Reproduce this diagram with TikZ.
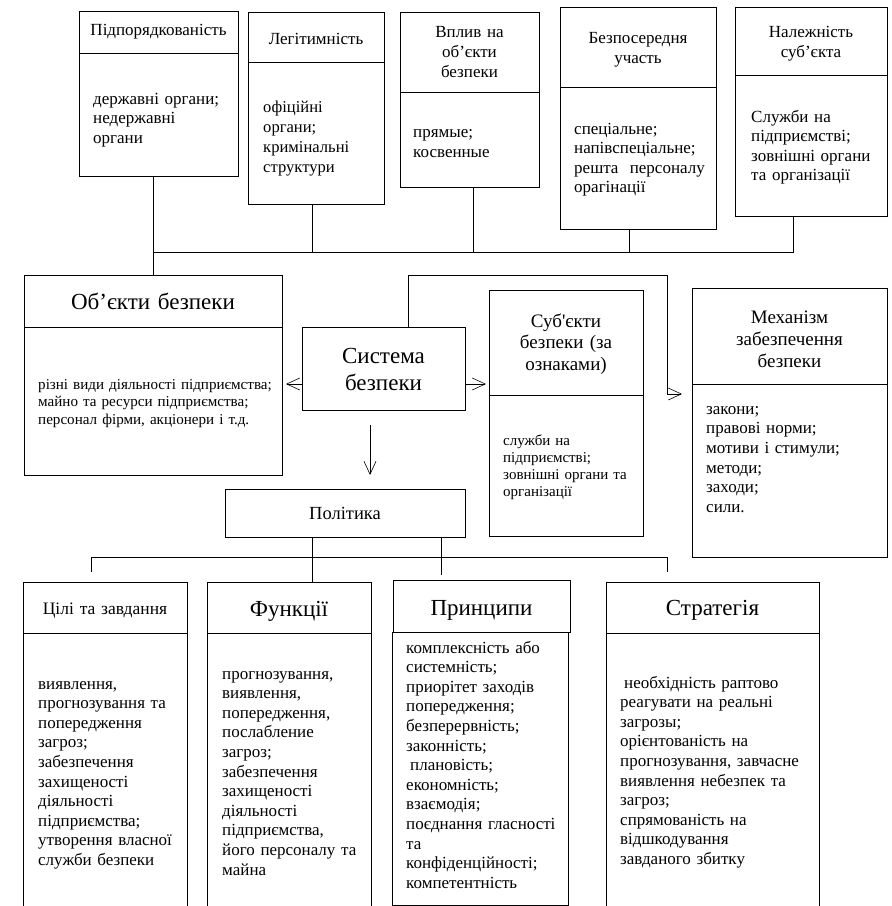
\documentclass[tikz,border=0pt]{standalone}
\usepackage{fontspec}
\setmainfont{Liberation Serif}[Ligatures=TeXOff]
\usetikzlibrary{arrows.meta}

\begin{document}
\begin{tikzpicture}[x=1pt, y=-1pt,
  cell/.style={draw, line width=0.9pt, anchor=north west, inner sep=0pt, outer sep=0pt},
  ttl/.style={anchor=base, align=center, inner sep=0pt, text width=#1,
    font=\fontsize{17}{20}\selectfont},
  big/.style={font=\fontsize{23}{27}\selectfont},
  txt/.style={anchor=base west, align=left, inner sep=0pt, text width=260pt,
    font=\fontsize{17}{19.6}\selectfont},
  wire/.style={line width=0.9pt},
  arr/.style={line width=0.8pt, -{Straight Barb[length=13pt, width=12pt, line width=0.6pt]}}]

\useasboundingbox (0,0) rectangle (892,906);
\fill[white] (0,0) rectangle (892,906);
\clip (0,0) rectangle (892,906);

% ---- upper row: classification features of the subjects ----
\node[cell, minimum width=159, minimum height=42]  (subH) at (79,11) {};
\node[cell, minimum width=159, minimum height=123] (subB) at (79,53) {};
\node[ttl=159pt] (subT) at (158.5,35.5) {Підпорядкованість};
\node[txt] (subX) at (93,104) {державні органи;\\недержавні\\органи};

\node[cell, minimum width=136, minimum height=50]  (legH) at (248,12) {};
\node[cell, minimum width=136, minimum height=142] (legB) at (248,62) {};
\node[ttl=136pt] (legT) at (316,44) {Легітимність};
\node[txt, font=\fontsize{16.6}{20}\selectfont] (legX) at (263,112) {офіційні\\органи;\\кримінальні\\структури};

\node[cell, minimum width=139, minimum height=80] (infH) at (400,12) {};
\node[cell, minimum width=139, minimum height=95] (infB) at (400,92) {};
\node[ttl=139pt] (infT) at (469.5,37) {Вплив на\\об’єкти\\безпеки};
\node[txt, font=\fontsize{17}{20}\selectfont] (infX) at (413,137) {прямые;\\косвенные};

\node[cell, minimum width=156, minimum height=80]  (parH) at (560,7) {};
\node[cell, minimum width=156, minimum height=142] (parB) at (560,87) {};
\node[ttl=156pt] (parT) at (638,43) {Безпосередня\\участь};
\node[txt] (parX) at (574,134) {спеціальне;\\напівспеціальне;\\решта\ \ персоналу\\орагінації};

\node[cell, minimum width=152, minimum height=68]  (ownH) at (735,7) {};
\node[cell, minimum width=152, minimum height=141] (ownB) at (735,75) {};
\node[ttl=152pt] (ownT) at (811,37) {Належність\\суб’єкта};
\node[txt] (ownX) at (751,122) {Служби на\\підприємстві;\\зовнішні органи\\та організації};

% ---- middle row ----
\node[cell, minimum width=258, minimum height=52]  (objH) at (24,275) {};
\node[cell, minimum width=258, minimum height=148] (objB) at (24,327) {};
\node[ttl=258pt, big] (objT) at (153,309) {Об’єкти безпеки};
\node[txt, font=\fontsize{15.1}{17.5}\selectfont] (objX) at (38,389)
  {різні види діяльності підприємства;\\майно та ресурси підприємства;\\персонал фірми, акціонери і т.д.};

\node[cell, minimum width=163, minimum height=83] (sys) at (302,327) {};
\node[ttl=163pt, big] (sysT) at (383.5,363) {Система\\безпеки};

\node[cell, minimum width=154, minimum height=105] (agtH) at (489,290) {};
\node[cell, minimum width=154, minimum height=141] (agtB) at (489,395) {};
\node[ttl=154pt, font=\fontsize{19}{21.5}\selectfont] (agtT) at (566,327) {Суб'єкти\\безпеки (за\\ознаками)};
\node[txt, font=\fontsize{15}{17}\selectfont] (agtX) at (503,445)
  {служби на\\підприємстві;\\зовнішні органи та\\організації};

\node[cell, minimum width=195, minimum height=96]  (mecH) at (692,288) {};
\node[cell, minimum width=195, minimum height=173] (mecB) at (692,384) {};
\node[ttl=195pt, font=\fontsize{19}{22}\selectfont] (mecT) at (789.5,323) {Механізм\\забезпечення\\безпеки};
\node[txt, font=\fontsize{17}{19.7}\selectfont] (mecX) at (706,414)
  {закони;\\правові норми;\\мотиви і стимули;\\методи;\\заходи;\\сили.};

\node[cell, minimum width=240, minimum height=48] (pol) at (225,489) {};
\node[ttl=240pt, font=\fontsize{18.5}{22}\selectfont] (polT) at (345,519) {Політика};

% ---- lower row ----
\node[cell, minimum width=164, minimum height=51]  (aimH) at (23,582) {};
\node[cell, minimum width=164, minimum height=300] (aimB) at (23,633) {};
\node[ttl=164pt, font=\fontsize{17.5}{20}\selectfont] (aimT) at (105,614) {Цілі та завдання};
\node[txt] (aimX) at (38,689)
  {виявлення,\\прогнозування та\\попередження\\загроз;\\забезпечення\\захищеності\\діяльності\\підприємства;\\утворення власної\\служби безпеки};

\node[cell, minimum width=164, minimum height=51]  (fnH) at (207,582) {};
\node[cell, minimum width=164, minimum height=300] (fnB) at (207,633) {};
\node[ttl=164pt, big] (fnT) at (289,616) {Функції};
\node[txt] (fnX) at (222,679)
  {прогнозування,\\виявлення,\\попередження,\\послабление\\загроз;\\забезпечення\\захищеності\\діяльності\\підприємства,\\його персоналу та\\майна};

\node[cell, minimum width=177, minimum height=52]  (prH) at (393,580) {};
\node[cell, minimum width=176, minimum height=273] (prB) at (392,632) {};
\node[ttl=177pt, big] (prT) at (481.5,615) {Принципи};
\node[txt] (prX) at (406,653)
  {комплексність або\\системність;\\приорітет заходів\\попередження;\\безперервність;\\законність;\\\hspace*{4pt}плановість;\\економність;\\взаємодія;\\поєднання гласності\\та\\конфіденційності;\\компетентність};

\node[cell, minimum width=213, minimum height=51]  (stH) at (606,582) {};
\node[cell, minimum width=213, minimum height=300] (stB) at (606,633) {};
\node[ttl=213pt, big] (stT) at (712.5,615) {Стратегія};
\node[txt] (stX) at (620,688)
  {\hspace*{4pt}необхідність раптово\\реагувати на реальні\\загрозы;\\орієнтованість на\\прогнозування, завчасне\\виявлення небезпек та\\загроз;\\спрямованість на\\відшкодування\\завданого збитку};

% ---- upper bus ----
\coordinate (busL) at (153,252);
\coordinate (busR) at (793,252);
\coordinate (j2) at (312,252);
\coordinate (j3) at (473,252);
\coordinate (j4) at (629,252);
\draw[wire] (busL |- subB.south) -- (busL |- objH.north);
\draw[wire] (busL) -- (busR) -- (busR |- ownB.south);
\draw[wire] (j2 |- legB.south) -- (j2);
\draw[wire] (j3 |- infB.south) -- (j3);
\draw[wire] (j4 |- parB.south) -- (j4);

% ---- arrows from the system ----
\coordinate (aL) at (286,384);
\coordinate (aR) at (486,384);
\coordinate (aD0) at (370,425);
\coordinate (aD) at (370,475);
\draw[arr] (aL -| sys.west) -- (aL);
\draw[arr] (aR -| sys.east) -- (aR);
\draw[arr] (aD0) -- (aD);

\coordinate (k1) at (408,275);
\coordinate (k2) at (667,275);
\coordinate (k3) at (667,394);
\coordinate (k4) at (682,394);
\draw[arr] (k1 |- sys.north) -- (k1) -- (k2) -- (k3) -- (k4);

% ---- lower bus ----
\coordinate (b2L) at (91,557);
\coordinate (b2R) at (667,557);
\coordinate (d1) at (91,572);
\coordinate (d4) at (667,572);
\draw[wire] (d1) -- (b2L) -- (b2R) -- (d4);
\coordinate (c3) at (312,0);
\draw[wire] (c3 |- pol.south) -- (c3 |- fnH.north);
\coordinate (c4) at (441,575);
\draw[wire] (c4 |- pol.south) -- (c4);

\end{tikzpicture}
\end{document}
